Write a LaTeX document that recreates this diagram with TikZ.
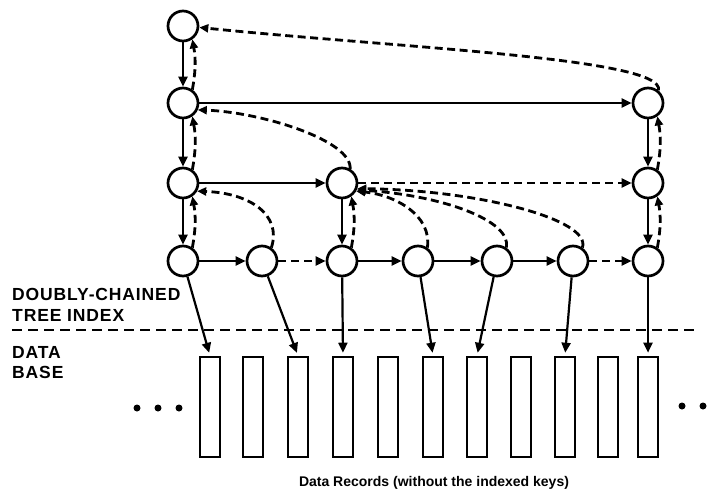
\documentclass[tikz,border=0pt]{standalone}
\usepackage{fontspec}
\setmainfont{Liberation Sans}
\usetikzlibrary{arrows.meta}
\begin{document}
\begin{tikzpicture}[x=1pt,y=-1pt,
  nd/.style={circle,draw,line width=2.7pt,minimum size=30pt,inner sep=0pt},
  fwd/.style={line width=2.6pt,-{Triangle[length=10pt,width=9pt]}},
  dfwd/.style={fwd,dash pattern=on 8pt off 5pt},
  back/.style={line width=2.8pt,dash pattern=on 8pt off 4.5pt,-{Triangle[length=9pt,width=8pt]}},
  ptr/.style={line width=2.2pt,-{Triangle[length=10pt,width=9pt]},shorten >=3pt},
  rec/.style={draw,line width=2.6pt,minimum width=20pt,minimum height=100pt,inner sep=0pt},
  lbl/.style={font=\fontsize{17.5}{20}\selectfont\bfseries\addfontfeature{LetterSpace=5},anchor=base west,inner sep=0pt},
  dotnode/.style={circle,fill,inner sep=0pt,minimum size=7pt}
]
\useasboundingbox (0,0) rectangle (717,490);
% tree nodes
\node[nd] (n11) at (183,26) {};
\node[nd] (n21) at (183,103) {};
\node[nd] (n27) at (648,103) {};
\node[nd] (n31) at (183,183) {};
\node[nd] (n33) at (342,183) {};
\node[nd] (n37) at (648,183) {};
\node[nd] (n41) at (183,261) {};
\node[nd] (n42) at (262,261) {};
\node[nd] (n43) at (342,261) {};
\node[nd] (n44) at (418,261) {};
\node[nd] (n45) at (497,261) {};
\node[nd] (n46) at (573,261) {};
\node[nd] (n47) at (648,261) {};
% records
\foreach \i/\x in {1/210,2/253,3/298,4/343,5/388,6/433,7/477,8/521,9/565,10/608,11/648}
  \node[rec] (r\i) at (\x,407) {};
% dots
\node[dotnode] (d1) at (137,408) {};
\node[dotnode] (d2) at (158,408) {};
\node[dotnode] (d3) at (179,408) {};
\node[dotnode] (d4) at (682,406) {};
\node[dotnode] (d5) at (703,406) {};
% solid forward pointers
\draw[fwd] (n11) -- (n21);
\draw[fwd] (n21) -- (n31);
\draw[fwd] (n31) -- (n41);
\draw[fwd] (n21) -- (n27);
\draw[fwd] (n27) -- (n37);
\draw[fwd] (n37) -- (n47);
\draw[fwd] (n31) -- (n33);
\draw[fwd] (n33) -- (n43);
\draw[fwd] (n41) -- (n42);
\draw[fwd] (n43) -- (n44);
\draw[fwd] (n44) -- (n45);
\draw[fwd] (n45) -- (n46);
% dashed forward pointers
\draw[dfwd] (n42) -- (n43);
\draw[dfwd] (n46) -- (n47);
\draw[dfwd] (n33) -- (n37);
% back pointers
\draw[back] (n21.55) to[out=80,in=-80] (n11.-55);
\draw[back] (n31.55) to[out=80,in=-80] (n21.-55);
\draw[back] (n41.55) to[out=80,in=-80] (n31.-55);
\draw[back] (n43.55) to[out=80,in=-80] (n33.-55);
\draw[back] (n37.55) to[out=80,in=-80] (n27.-55);
\draw[back] (n47.55) to[out=80,in=-80] (n37.-55);
\draw[back] (n42.55) .. controls (282,215) and (250,193) .. (n31.-30);
\draw[back] (n44.55) .. controls (432,215) and (395,195) .. (n33.-30);
\draw[back] (n45.55) .. controls (512,220) and (440,195) .. (n33.-25);
\draw[back] (n46.55) .. controls (592,220) and (480,190) .. (n33.-20);
\draw[back] (n33.60) .. controls (352,140) and (260,112) .. (n21.-25);
\draw[back] (n27.50) .. controls (666,58) and (400,48) .. (n11.-5);
% pointers to data records
\draw[ptr] (n41) -- (r1.north);
\draw[ptr] (n42) -- (r3.north);
\draw[ptr] (n43) -- (r4.north);
\draw[ptr] (n44) -- (r6.north);
\draw[ptr] (n45) -- (r7.north);
\draw[ptr] (n46) -- (r9.north);
\draw[ptr] (n47) -- (r11.north);
% divider
\coordinate (divL) at (12,330);
\coordinate (divR) at (697,330);
\draw[line width=2.6pt,dash pattern=on 10pt off 6pt] (divL) -- (divR);
% labels
\node[lbl] (t1) at (12,300) {DOUBLY-CHAINED};
\node[lbl] (t2) at (12,321) {TREE INDEX};
\node[lbl] (t3) at (12,358) {DATA};
\node[lbl] (t4) at (12,378) {BASE};
\node[font=\fontsize{14}{16}\selectfont\bfseries,anchor=base,inner sep=0pt] (cap) at (434,486) {Data Records (without the indexed keys)};
\end{tikzpicture}
\end{document}
